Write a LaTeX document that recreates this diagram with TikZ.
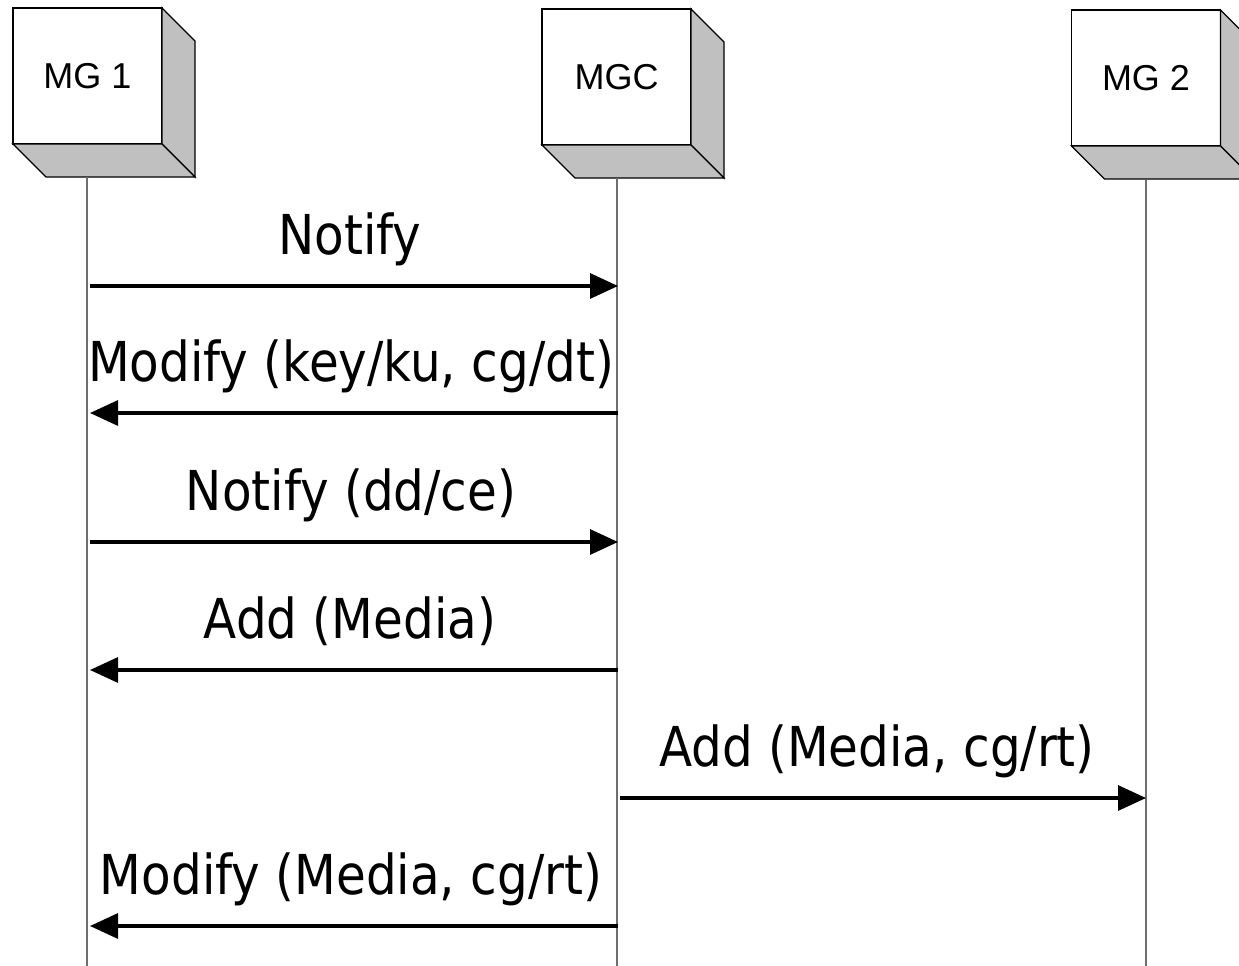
\documentclass[tikz,border=0pt]{standalone}
\usepackage{fontspec}
\setmainfont{Liberation Sans}
\newfontfamily\msgfont[FakeStretch=0.88]{DejaVu Sans}
\usetikzlibrary{arrows.meta}
\definecolor{shade}{RGB}{192,192,192}
\definecolor{lifegray}{RGB}{110,110,110}

\begin{document}
\begin{tikzpicture}[x=1pt,y=-1pt,
  face/.style={draw=black, line width=1.3pt, fill=white, minimum width=149pt,
    minimum height=136pt, inner sep=0pt, outer sep=0pt,
    font=\fontsize{36}{40}\selectfont},
  side/.style={draw=black, line width=1.3pt, fill=shade, line join=miter},
  lifeline/.style={draw=lifegray, line width=1.3pt},
  msg/.style={line width=3.2pt, -{Triangle[length=28pt,width=25pt]}},
  lbl/.style={anchor=base, inner sep=0pt, font=\msgfont\fontsize{55}{60}\selectfont}]

\useasboundingbox (0,0) rectangle (1239,966);

% entities: front face plus the two shaded faces of the block
\foreach \n/\x/\y/\t in {mg1/87.5/76/MG 1, mgc/616.5/77/MGC, mg2/1146/78/MG 2}{
  \node[face] (\n) at (\x,\y) {\t};
  \draw[side] (\n.north east) -- ++(33,33) -- ++(0,136) -- (\n.south east) -- cycle;
  \draw[side] (\n.south west) -- ++(33,33) -- ++(149,0) -- (\n.south east) -- cycle;
}

% lifelines
\coordinate (mg1top) at (87,177);   \coordinate (mg1bot) at (87,966);
\coordinate (mgctop) at (617,178);  \coordinate (mgcbot) at (617,966);
\coordinate (mg2top) at (1146,180); \coordinate (mg2bot) at (1146,966);
\draw[lifeline] (mg1top) -- (mg1bot);
\draw[lifeline] (mgctop) -- (mgcbot);
\draw[lifeline] (mg2top) -- (mg2bot);

% message end points on the lifelines
\coordinate (p1a) at (90,286);  \coordinate (p1b) at (618,286);
\coordinate (p2a) at (90,413);  \coordinate (p2b) at (618,413);
\coordinate (p3a) at (90,542);  \coordinate (p3b) at (618,542);
\coordinate (p4a) at (90,670);  \coordinate (p4b) at (618,670);
\coordinate (p5a) at (620,798); \coordinate (p5b) at (1146,798);
\coordinate (p6a) at (90,926);  \coordinate (p6b) at (618,926);

% messages
\draw[msg] (p1a) -- (p1b);
\draw[msg] (p2b) -- (p2a);
\draw[msg] (p3a) -- (p3b);
\draw[msg] (p4b) -- (p4a);
\draw[msg] (p5a) -- (p5b);
\draw[msg] (p6b) -- (p6a);

% message labels
\node[lbl] (t1) at (350,254) {Notify};
\node[lbl] (t2) at (351,381) {Modify (key/ku, cg/dt)};
\node[lbl] (t3) at (351,510) {Notify (dd/ce)};
\node[lbl] (t4) at (350,638) {Add (Media)};
\node[lbl] (t5) at (877,766) {Add (Media, cg/rt)};
\node[lbl] (t6) at (351,894) {Modify (Media, cg/rt)};
\end{tikzpicture}
\end{document}
